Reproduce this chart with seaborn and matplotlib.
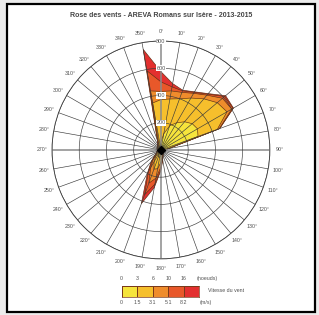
import numpy as np
import matplotlib
matplotlib.use("Agg")
import matplotlib.pyplot as plt
import seaborn as sns
from matplotlib.colors import ListedColormap
from matplotlib.patches import Rectangle

# ── Data ──────────────────────────────────────────────
DIRECTIONS = list(range(0, 360, 10))

# cumulative frequency at the outer edge of each speed class, per direction
CLASS_1 = [60, 120, 190, 230, 270, 300, 310, 290, 45, 25, 20, 18,
           18, 18, 20, 22, 25, 30, 45, 55, 50, 40, 30, 25,
           22, 20, 20, 20, 20, 20, 20, 20, 22, 25, 28, 30]
CLASS_2 = [370, 380, 400, 440, 490, 540, 560, 440, 52, 30, 25, 22,
           22, 22, 24, 28, 35, 50, 90, 140, 150, 100, 60, 38,
           30, 26, 25, 25, 25, 25, 26, 27, 30, 35, 45, 350]
CLASS_3 = [430, 440, 450, 480, 525, 590, 600, 455, 54, 32, 27, 24,
           24, 24, 26, 31, 42, 65, 125, 210, 260, 150, 88, 48,
           35, 30, 28, 27, 27, 28, 29, 31, 35, 42, 60, 440]
CLASS_4 = [500, 470, 462, 488, 535, 610, 612, 458, 55, 33, 28, 25,
           25, 25, 27, 32, 45, 72, 142, 255, 350, 185, 103, 53,
           37, 31, 29, 28, 28, 29, 31, 33, 38, 46, 70, 590]
CLASS_5 = [575, 495, 467, 493, 540, 620, 615, 460, 55, 33, 28, 25,
           25, 25, 27, 32, 46, 75, 150, 280, 420, 200, 110, 55,
           38, 32, 30, 28, 28, 30, 32, 35, 40, 50, 80, 750]

SPEED_COLORS = ["#f6e43c", "#f6bf2c", "#ef8c2c", "#e8582a", "#e3302f"]
KNOTS = ["0", "3", "6", "10", "16"]
METERS = ["0", "1.5", "3.1", "5.1", "8.2"]
RINGS = [200, 400, 600, 800]
TITLE = "Rose des vents - AREVA Romans sur Isère - 2013-2015"
# ──────────────────────────────────────────────────────

sns.set_theme(style="white")
plt.rcParams["font.family"] = ["Liberation Sans", "DejaVu Sans"]

fig = plt.figure(figsize=(3.19, 3.15), dpi=100, facecolor="#ececec")
fig.patches.append(Rectangle((0.022, 0.0095), 0.9655, 0.978, transform=fig.transFigure,
                             facecolor="white", edgecolor="black", linewidth=1.6, zorder=-5))
fig.text(0.505, 0.952, TITLE, ha="center", va="center", fontsize=5,
         fontweight="bold", color="#454545")

# ── Wind rose ─────────────────────────────────────────
ax = fig.add_axes([0.163, 0.178, 0.683, 0.692], projection="polar")
ax.set_theta_zero_location("N")
ax.set_theta_direction(-1)
ax.set_facecolor("white")

theta = np.deg2rad(DIRECTIONS + [DIRECTIONS[0]])
bands = [CLASS_1, CLASS_2, CLASS_3, CLASS_4, CLASS_5]
for vals, col in reversed(list(zip(bands, SPEED_COLORS))):
    ax.fill(theta, list(vals) + [vals[0]], facecolor=col,
            edgecolor="#5e3014", linewidth=0.45, zorder=1)

ax.plot([0], [0], marker="D", color="black", markersize=4.5, zorder=5)

ax.set_ylim(0, 800)
ax.set_rgrids(RINGS, labels=[""] * len(RINGS))
ax.set_thetagrids(DIRECTIONS, labels=[f"{d}°" for d in DIRECTIONS])
ax.tick_params(axis="x", labelsize=3.8, labelcolor="#505050", length=0, pad=0)
ax.tick_params(axis="y", length=0)
ax.grid(True, color="#3a3a3a", linewidth=0.45)
ax.set_axisbelow(False)
for i, gl in enumerate(ax.xaxis.get_gridlines()):
    if DIRECTIONS[i] % 90 == 0:
        gl.set_color("#8a8a8a")
        gl.set_linewidth(1.1)
ax.spines["polar"].set_color("#3a3a3a")
ax.spines["polar"].set_linewidth(0.6)

for r in RINGS:
    ax.text(0, r, str(r), ha="center", va="center", fontsize=4, color="#555555",
            bbox=dict(facecolor="white", edgecolor="none", pad=0.5), zorder=6)

# ── Speed legend ──────────────────────────────────────
lax = fig.add_axes([0.3815, 0.0571, 0.2433, 0.035])
sns.heatmap([list(range(len(SPEED_COLORS)))], cmap=ListedColormap(SPEED_COLORS),
            cbar=False, linewidths=0.5, linecolor="#7a3a1a", ax=lax,
            xticklabels=False, yticklabels=False)
for s in lax.spines.values():
    s.set_visible(True)
    s.set_color("#7a3a1a")
    s.set_linewidth(0.5)
for i, (k, m) in enumerate(zip(KNOTS, METERS)):
    lax.text(i, -0.7, k, ha="center", va="center", fontsize=3.8, color="#505050", clip_on=False)
    lax.text(i, 1.5, m, ha="center", va="center", fontsize=3.8, color="#505050", clip_on=False)
lax.text(4.83, -0.7, "(noeuds)", ha="left", va="center", fontsize=3.8, color="#505050", clip_on=False)
lax.text(5.0, 1.5, "(m/s)", ha="left", va="center", fontsize=3.8, color="#505050", clip_on=False)
lax.text(5.58, 0.45, "Vitesse du vent", ha="left", va="center", fontsize=3.8, color="#505050", clip_on=False)

fig.savefig("out.png", dpi=100, facecolor=fig.get_facecolor())
